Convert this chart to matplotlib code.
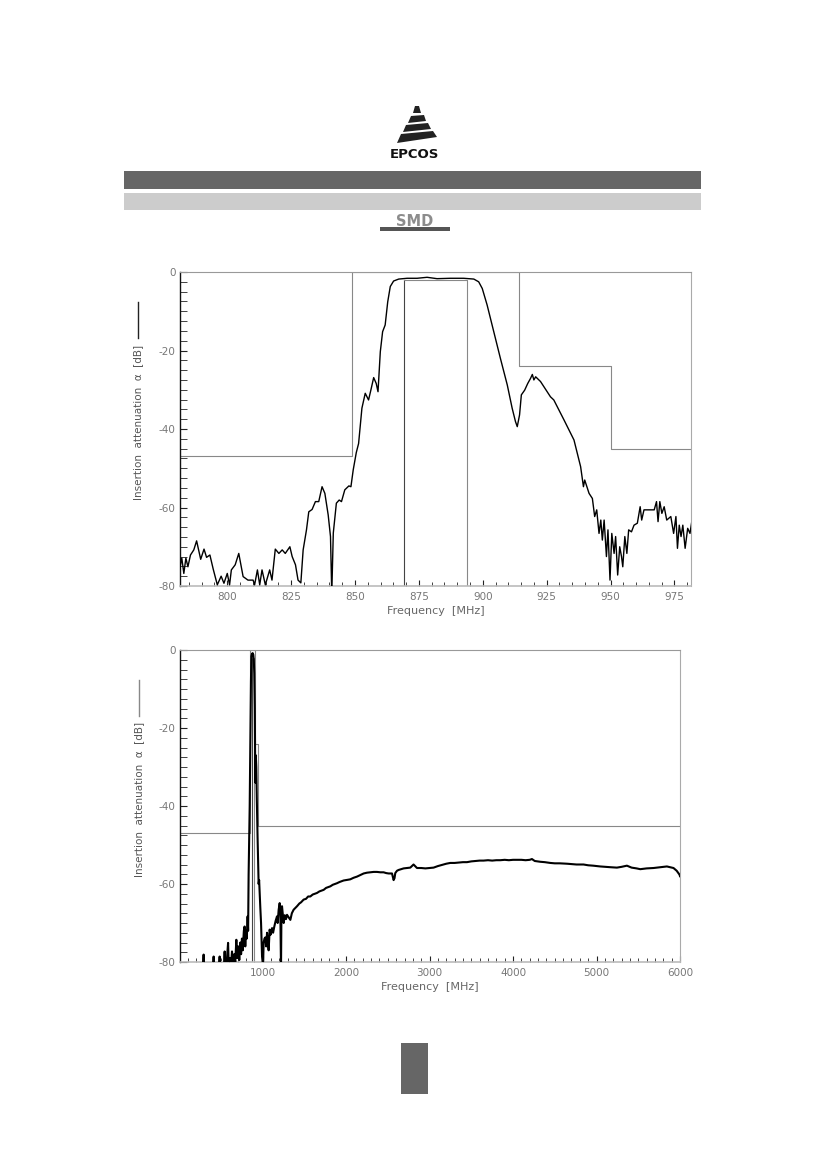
import matplotlib.pyplot as plt
import matplotlib.patches as mpatches
from matplotlib.lines import Line2D
from matplotlib.ticker import MultipleLocator

plt.rcParams['axes.unicode_minus'] = False
plt.rcParams['font.family'] = ['DejaVu Sans']

# ---- narrow band measurement (MHz, dB) ----
narrow_f = [781.3, 782.2, 783.0, 783.8, 784.6, 785.6, 786.9, 788.0, 789.6, 790.9,
            791.9, 793.2, 794.5, 796.1, 797.6, 798.7, 800.0, 800.9, 801.6, 803.1,
            804.5, 806.2, 808.1, 810.1, 810.7, 811.8, 812.7, 813.6, 814.9, 816.6,
            817.5, 818.8, 820.2, 821.5, 822.7, 824.5, 825.4, 826.7, 827.7, 828.8,
            829.7, 831.0, 831.9, 833.2, 834.5, 835.8, 837.1, 838.2, 839.5, 840.4,
            840.9, 841.5, 842.7, 843.8, 844.7, 846.0, 847.6, 848.4, 849.3, 850.5,
            851.4, 852.7, 854.0, 855.3, 856.2, 857.3, 858.3, 859.0, 859.9, 860.8,
            861.8, 862.8, 863.8, 865.1, 867.1, 870.4, 874.3, 878.2, 882.1, 887.3,
            892.5, 896.5, 898.4, 899.8, 901.7, 904.3, 906.9, 909.6, 911.5, 912.8,
            913.5, 914.4, 915.1, 916.4, 917.6, 918.7, 919.4, 920.0, 920.7, 922.6,
            926.5, 927.8, 931.8, 935.7, 938.3, 939.4, 939.9, 941.6, 942.9, 943.8,
            944.6, 945.5, 946.2, 946.8, 947.5, 948.4, 949.0, 949.8, 950.5, 951.4,
            952.0, 952.8, 953.6, 954.3, 954.8, 955.6, 956.4, 957.1, 958.2, 959.2,
            960.5, 961.6, 962.2, 963.1, 964.5, 965.8, 967.1, 968.0, 968.6, 969.3,
            970.1, 971.0, 972.0, 973.6, 974.7, 975.6, 976.2, 976.9, 977.6, 978.3,
            979.2, 980.2, 981.1, 981.8]
narrow_db = [-75.9, -72.9, -76.8, -72.9, -75.1, -72.1, -70.8, -68.5, -73.2, -70.6,
             -72.7, -72.1, -75.7, -79.7, -77.5, -79.3, -76.8, -79.7, -75.9, -74.6,
             -71.7, -77.6, -78.5, -78.5, -79.7, -75.9, -79.7, -75.9, -79.7, -75.9,
             -78.5, -70.6, -71.7, -70.8, -71.7, -70.0, -72.5, -74.6, -78.5, -79.2,
             -70.8, -65.7, -61.1, -60.5, -58.5, -58.5, -54.7, -56.4, -61.9, -67.4,
             -82.0, -66.5, -58.9, -58.1, -58.5, -55.5, -54.5, -54.7, -50.4, -46.0,
             -43.7, -34.7, -30.9, -32.6, -30.1, -26.9, -28.4, -30.5, -20.3, -15.2,
             -13.5, -7.6, -3.7, -2.3, -1.8, -1.6, -1.6, -1.35, -1.7, -1.6,
             -1.6, -1.8, -2.5, -4.2, -8.4, -15.2, -22.0, -28.8, -34.7, -38.1,
             -39.4, -36.4, -31.3, -30.1, -28.4, -27.1, -26.1, -27.5, -26.7, -27.9,
             -31.8, -32.6, -37.7, -42.8, -49.6, -54.7, -53.0, -56.4, -57.7, -62.3,
             -60.6, -66.6, -63.2, -68.3, -63.2, -72.5, -65.7, -78.5, -66.6, -71.7,
             -67.4, -77.2, -70.0, -72.5, -75.1, -67.4, -71.7, -65.7, -66.2, -64.5,
             -64.0, -59.8, -63.2, -60.6, -60.6, -60.6, -60.6, -58.5, -63.6, -58.5,
             -61.5, -59.8, -63.2, -62.3, -66.6, -62.3, -70.4, -64.5, -67.4, -64.5,
             -70.4, -65.3, -66.6, -63.6]

# ---- wide band measurement (MHz, dB) ----
wide_f = [10, 280, 293, 300, 400, 413, 420, 470, 485, 492, 530, 545, 555, 570, 586,
          595, 610, 622, 633, 645, 660, 672, 685, 695, 708, 720, 733, 742, 752, 762,
          775, 784, 792, 800, 810, 820, 826, 832, 845, 853, 860, 865, 872, 880, 888,
          894, 900, 906, 912, 918, 924, 930, 940, 952, 958, 964, 972, 981, 993, 1005,
          1012, 1022, 1032, 1042, 1053, 1062, 1072, 1084, 1095, 1113, 1125, 1140, 1155,
          1172, 1180, 1192, 1204, 1212, 1220, 1225, 1232, 1242, 1252, 1265, 1280, 1292,
          1310, 1332, 1350, 1371, 1390, 1412, 1440, 1460, 1491, 1520, 1545, 1571, 1600,
          1625, 1651, 1680, 1705, 1731, 1760, 1785, 1811, 1840, 1865, 1891, 1920, 1945,
          1970, 2000, 2025, 2050, 2090, 2131, 2170, 2210, 2250, 2290, 2330, 2370, 2410,
          2449, 2480, 2509, 2550, 2569, 2580, 2589, 2610, 2629, 2660, 2689, 2730, 2769,
          2808, 2849, 2900, 2950, 3000, 3048, 3100, 3150, 3200, 3248, 3300, 3350, 3400,
          3448, 3500, 3550, 3600, 3647, 3700, 3750, 3800, 3847, 3900, 3950, 4000, 4047,
          4100, 4150, 4200, 4226, 4260, 4326, 4380, 4446, 4500, 4560, 4646, 4700, 4760,
          4844, 4900, 4960, 5044, 5100, 5170, 5244, 5300, 5364, 5420, 5480, 5524, 5600,
          5683, 5760, 5843, 5900, 5922, 5960, 5994, 6000]
wide_db = [-85, -85, -78.1, -85, -85, -78.6, -85, -85, -78.6, -85, -84, -77.3, -83,
           -80, -75.1, -82, -79, -80.5, -77.3, -81, -78, -80, -74.3, -79, -76, -79.5,
           -75, -78, -74, -77, -72, -70.9, -76, -72, -74, -68.3, -72, -57.6, -40, -23,
           -8, -1.6, -1.0, -0.8, -1.2, -2.5, -6, -15, -34, -27, -30, -38, -48.7, -60,
           -59, -62.2, -66, -70, -78.6, -81, -75, -74, -73.7, -76, -72.5, -75, -77,
           -71.7, -73, -71.3, -72.5, -70.9, -69.5, -68.3, -70, -66.6, -64.9, -67, -82,
           -68, -65.7, -68, -70, -68, -69, -67.9, -68.5, -69.2, -67.5, -66.6, -66.2,
           -65.7, -65, -64.7, -64, -63.8, -63.2, -63.2, -62.7, -62.5, -62.3, -61.9,
           -61.7, -61.5, -61.0, -60.8, -60.6, -60.2, -60.0, -59.8, -59.5, -59.3, -59.1,
           -59.0, -58.9, -58.8, -58.4, -58.1, -57.7, -57.3, -57.1, -57.0, -56.9, -56.9,
           -57.0, -57.0, -57.2, -57.3, -57.3, -59.0, -58.5, -57.2, -56.6, -56.4, -56.2,
           -56.0, -55.9, -55.8, -55.0, -55.9, -55.9, -56.0, -55.9, -55.8, -55.4, -55.1,
           -54.8, -54.6, -54.6, -54.5, -54.4, -54.4, -54.2, -54.1, -54.0, -54.0, -53.9,
           -54.0, -53.9, -53.9, -53.8, -53.9, -53.8, -53.8, -53.8, -53.9, -53.8, -53.6,
           -54.1, -54.3, -54.4, -54.6, -54.7, -54.7, -54.8, -54.9, -55.0, -55.0, -55.2,
           -55.3, -55.5, -55.6, -55.7, -55.8, -55.6, -55.3, -55.8, -56.0, -56.2, -56.0,
           -55.9, -55.7, -55.5, -55.8, -55.9, -56.6, -57.6, -58.0]

# ---- tolerance scheme ----
stop_f = [849, 849, 914, 914, 950, 950]
stop_db = [-47, 0, 0, -24, -24, -45]
pass_f = [869, 869, 894, 894]
pass_db = [-80, -2, -2, -80]

narrow_xlim = (781.5, 981.5)
narrow_xticks = [800, 825, 850, 875, 900, 925, 950, 975]
wide_xlim = (10, 6000)
wide_xticks = [1000, 2000, 3000, 4000, 5000, 6000]
yticks = [0, -20, -40, -60, -80]

W, H = 826, 1169
fig = plt.figure(figsize=(W / 100, H / 100), dpi=100)

# page decoration layer in pixel coordinates
page = fig.add_axes([0, 0, 1, 1], zorder=0)
page.set_xlim(0, W)
page.set_ylim(H, 0)
page.axis('off')

# EPCOS logo: stacked swept stripes forming a triangle
stripes = [
    [(415, 106), (419, 106), (421, 113), (413, 113)],
    [(411, 116), (424, 115), (426, 121), (408, 123)],
    [(406, 125), (428, 123), (431, 129), (403, 132)],
    [(401, 134), (433, 131), (437, 137), (397, 143)],
]
for s in stripes:
    page.add_patch(mpatches.Polygon(s, closed=True, fc='#222222', ec='none'))
page.text(414, 154, 'EPCOS', ha='center', va='center', fontsize=9.5,
          fontweight='bold', color='#111111')

# header bars
page.add_patch(mpatches.Rectangle((124, 171), 577, 18, fc='#666666', ec='none'))
page.add_patch(mpatches.Rectangle((124, 193), 577, 17, fc='#cccccc', ec='none'))

# SMD mark
page.add_patch(mpatches.Rectangle((380, 227), 70, 4, fc='#555555', ec='none'))
page.text(415, 222, 'SMD', ha='center', va='center', fontsize=10.5,
          fontweight='bold', color='#8c8c8c', fontstretch='expanded')

# footer page tab
page.add_patch(mpatches.Rectangle((401, 1043), 27, 51, fc='#666666', ec='none'))


def style_axes(ax, xlim, xticks, xminor, line_color):
    ax.set_xlim(*xlim)
    ax.set_ylim(-80, 0)
    ax.set_xticks(xticks)
    ax.set_yticks(yticks)
    ax.xaxis.set_minor_locator(MultipleLocator(xminor))
    ax.yaxis.set_minor_locator(MultipleLocator(2.5))
    ax.tick_params(axis='both', which='both', direction='in', color='#222222',
                   labelcolor='#777777', labelsize=7.5, top=False, right=False)
    ax.tick_params(axis='y', which='major', length=5, width=0.8, pad=3)
    ax.tick_params(axis='y', which='minor', length=5, width=0.6)
    ax.tick_params(axis='x', which='major', length=4, width=0.8, pad=4)
    ax.tick_params(axis='x', which='minor', length=3, width=0.6)
    ax.spines['left'].set_color('#111111')
    ax.spines['left'].set_linewidth(1.0)
    ax.spines['bottom'].set_color('#bbbbbb')
    ax.spines['bottom'].set_linewidth(1.2)
    ax.spines['top'].set_color('#999999')
    ax.spines['top'].set_linewidth(0.8)
    ax.spines['right'].set_color('#aaaaaa')
    ax.spines['right'].set_linewidth(0.8)
    ax.set_xlabel('Frequency  [MHz]', fontsize=8, color='#666666', labelpad=3)
    ax.text(-0.082, 0.52, 'Insertion  attenuation  \u03b1  [dB]', transform=ax.transAxes,
            rotation=90, ha='center', va='center', fontsize=7.5, color='#555555')
    ax.add_line(Line2D([-0.082, -0.082], [0.79, 0.905], transform=ax.transAxes,
                       color=line_color, lw=1.0, clip_on=False))


def draw_scheme(ax, xlim):
    sf = [xlim[0]] + stop_f + [xlim[1]]
    sd = [stop_db[0]] + stop_db + [stop_db[-1]]
    ax.plot(sf, sd, color='#888888', lw=0.8, zorder=2)
    ax.plot(pass_f[:2], pass_db[:2], color='#444444', lw=0.8, zorder=2)
    ax.plot(pass_f[1:], pass_db[1:], color='#888888', lw=0.8, zorder=2)


# narrow band plot
ax1 = fig.add_axes([180 / W, 1 - 586 / H, 511 / W, 314 / H], zorder=1)
draw_scheme(ax1, narrow_xlim)
ax1.plot(narrow_f, narrow_db, color='black', lw=1.0, zorder=3)
style_axes(ax1, narrow_xlim, narrow_xticks, 5, '#222222')

# wide band plot
ax2 = fig.add_axes([180 / W, 1 - 962 / H, 500 / W, 312 / H], zorder=1)
draw_scheme(ax2, wide_xlim)
ax2.plot(wide_f, wide_db, color='black', lw=1.5, zorder=3)
style_axes(ax2, wide_xlim, wide_xticks, 100, '#888888')

fig.savefig('out.png', dpi=100)
